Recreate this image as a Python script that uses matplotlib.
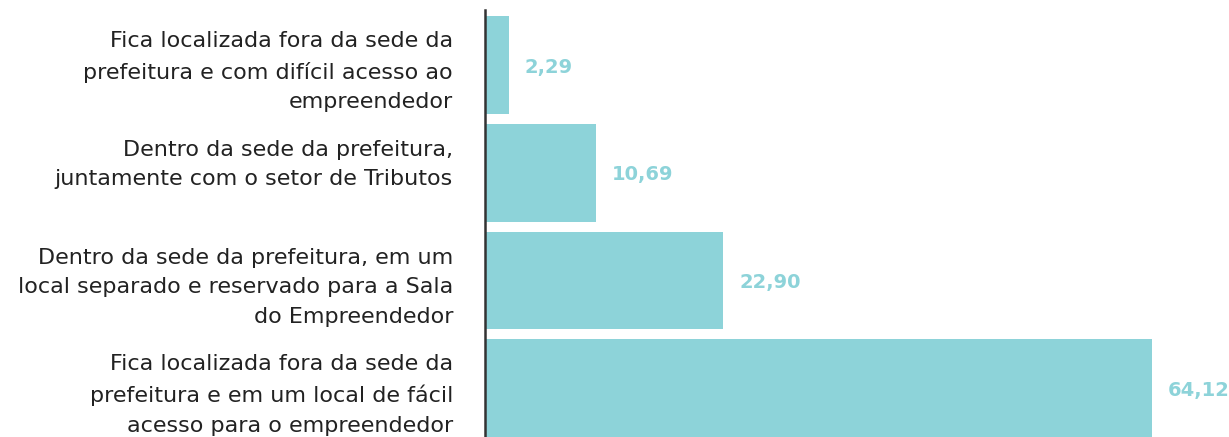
import matplotlib.pyplot as plt

categories = [
    "Fica localizada fora da sede da\nprefeitura e com difícil acesso ao\nempreendedor",
    "Dentro da sede da prefeitura,\njuntamente com o setor de Tributos\n",
    "Dentro da sede da prefeitura, em um\nlocal separado e reservado para a Sala\ndo Empreendedor",
    "Fica localizada fora da sede da\nprefeitura e em um local de fácil\nacesso para o empreendedor",
]
values = [2.29, 10.69, 22.90, 64.12]
value_labels = ["2,29", "10,69", "22,90", "64,12"]

bar_color = "#8dd3d9"
plt.rcParams['font.family'] = ['DejaVu Sans']

fig = plt.figure(figsize=(12.29, 4.37), dpi=100)
ax = fig.add_axes([485 / 1229, 0, 1 - 485 / 1229, 427 / 437])

ypos = list(range(len(values)))[::-1]
ax.barh(ypos, values, height=0.907, color=bar_color)

# value labels just right of each bar
for y, v, lab in zip(ypos, values, value_labels):
    ax.text(v + 1.55, y - 0.02, lab, va='center', ha='left', fontsize=14,
            fontweight='bold', color=bar_color)

ax.set_yticks(ypos)
ax.set_yticklabels(categories, fontsize=16, color='#222222', linespacing=1.6)
ax.tick_params(axis='y', length=0, pad=23)
ax.set_xticks([])
ax.set_xlim(0, (1229 - 485) / 10.40)
ax.set_ylim(-0.454, 3.51)

for s in ['top', 'right', 'bottom']:
    ax.spines[s].set_visible(False)
ax.spines['left'].set_color('#333333')
ax.spines['left'].set_linewidth(1.8)

fig.savefig('out.png', dpi=100)
